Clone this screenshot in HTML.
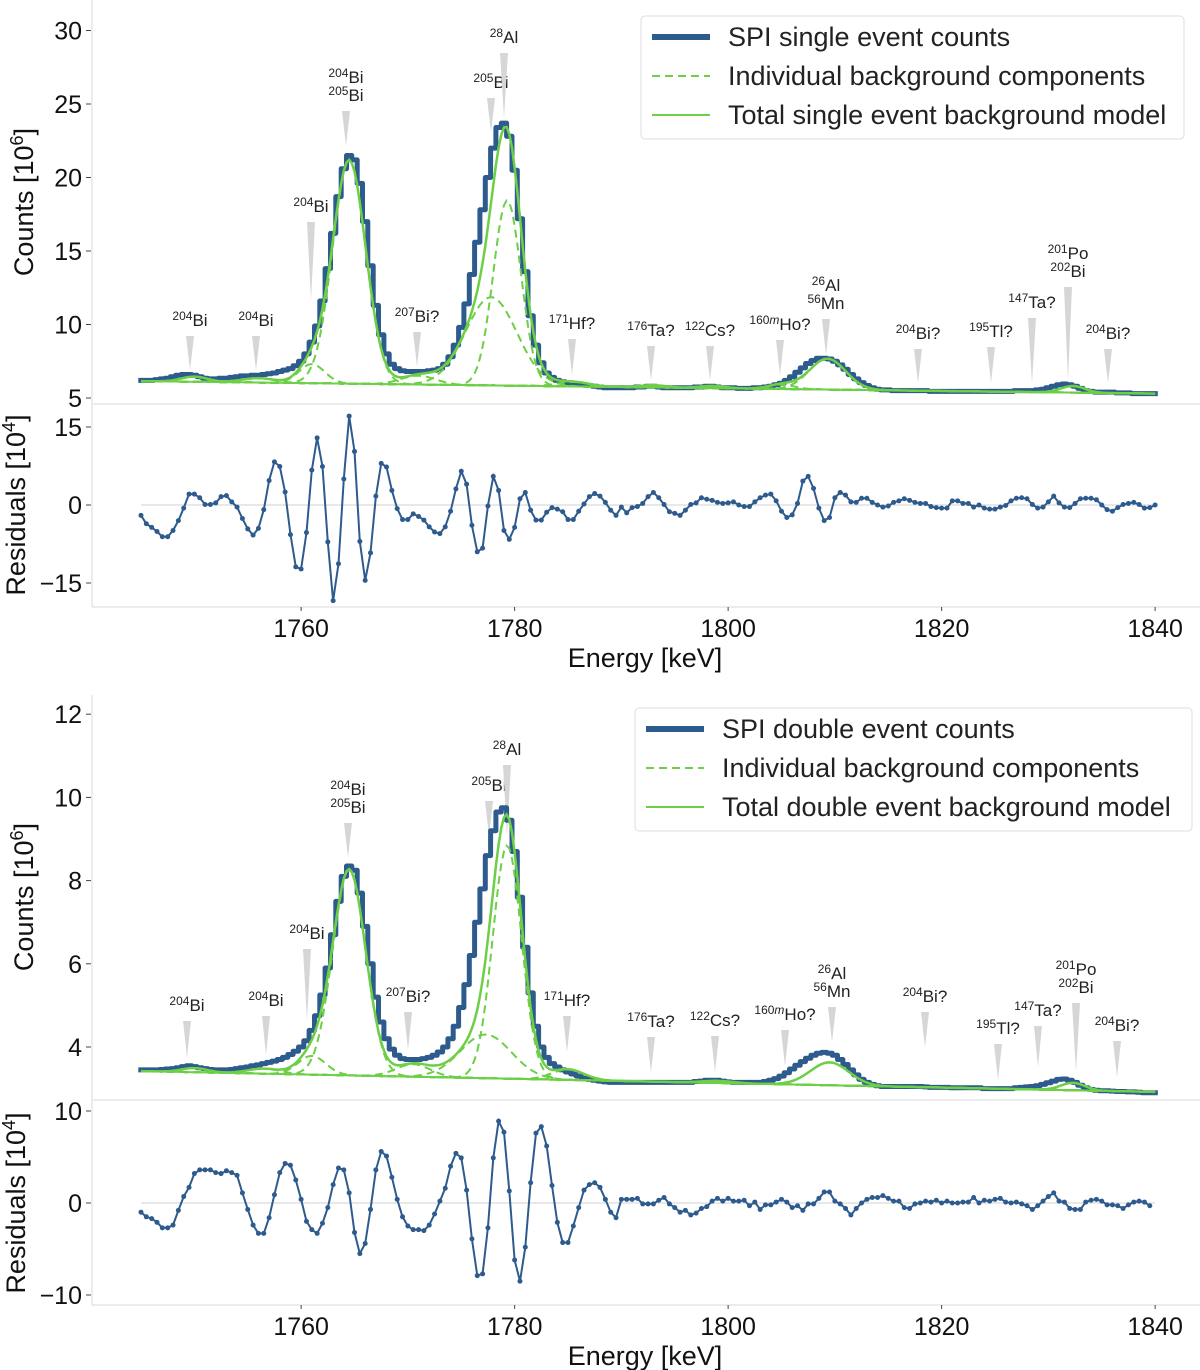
<!DOCTYPE html>
<html><head><meta charset="utf-8"><style>
body{margin:0;background:#fff}
svg{display:block;font-family:"Liberation Sans",sans-serif}
</style></head><body>
<svg id="chart" width="1200" height="1370" viewBox="0 0 1200 1370"></svg>
<script>
// ---------- DATA ----------
const energyStart = 1745;   // keV, first bin centre
const binStep = 0.5;        // keV width of count bins
const residStep = 0.5;      // keV spacing of residual points
const xTicks = [1760, 1780, 1800, 1820, 1840];
const topCountTicks = [5, 10, 15, 20, 25, 30];
const topResidTicks = [-15, 0, 15];
const botCountTicks = [4, 6, 8, 10, 12];
const botResidTicks = [-10, 0, 10];

const topCounts = [6.2,6.2,6.2,6.25,6.3,6.35,
6.45,6.55,6.6,6.6,6.55,6.45,6.35,6.3,6.3,6.35,
6.35,6.4,6.45,6.5,6.5,6.55,6.55,6.6,6.65,6.7,
6.8,6.9,7.0,7.2,7.5,8.0,8.8,9.9,11.6,13.8,
16.2,18.7,20.6,21.5,21.2,19.6,17.0,14.0,11.3,9.3,
8.0,7.3,7.0,6.85,6.8,6.8,6.8,6.8,6.85,6.9,
7.0,7.3,7.8,8.6,9.8,11.4,13.4,15.6,17.8,20.0,
22.0,23.4,23.7,22.8,20.5,17.2,13.6,10.6,8.6,7.4,
6.7,6.4,6.2,6.1,6.05,6.0,5.95,5.9,5.85,5.8,
5.75,5.7,5.7,5.7,5.7,5.7,5.7,5.75,5.75,5.8,
5.8,5.75,5.7,5.7,5.7,5.7,5.7,5.7,5.75,5.75,
5.8,5.8,5.75,5.7,5.7,5.7,5.65,5.65,5.65,5.7,
5.7,5.75,5.8,5.9,6.0,6.2,6.45,6.75,7.05,7.35,
7.55,7.7,7.7,7.65,7.5,7.25,6.95,6.6,6.3,6.05,
5.85,5.7,5.6,5.55,5.55,5.5,5.5,5.5,5.5,5.5,
5.5,5.5,5.45,5.45,5.45,5.45,5.45,5.45,5.45,5.45,
5.45,5.45,5.45,5.45,5.45,5.45,5.45,5.45,5.5,5.5,
5.5,5.5,5.55,5.6,5.7,5.8,5.9,5.95,5.9,5.8,
5.65,5.5,5.45,5.4,5.4,5.4,5.4,5.35,5.35,5.35,
5.3,5.3,5.3,5.3,5.3];
const topResid = [-2.0,-3.6,-4.3,-5.1,-6.1,-6.1,-4.9,-3.0,-0.6,2.1,2.1,1.4,0.1,0.1,0.4,1.6,1.8,0.6,-0.4,-2.6,-4.6,-5.8,-4.5,-0.9,4.7,8.3,7.4,2.5,-5.7,-11.9,-12.3,-5.3,6.7,12.9,7.4,-7.1,-18.4,-11.3,5.0,17.1,10.3,-7.0,-14.5,-9.2,1.7,8.0,7.3,2.8,-0.7,-2.8,-2.8,-1.7,-2.2,-2.9,-4.2,-5.2,-5.5,-4.2,-1.2,3.1,6.5,4.0,-3.9,-9.0,-8.3,-0.2,5.5,2.8,-4.9,-6.6,-4.3,1.2,2.4,-1.0,-2.9,-2.9,-1.4,-0.5,-0.8,-1.3,-2.8,-2.8,-1.2,0.2,1.6,2.2,1.7,0.5,-1.0,-2.0,-0.4,-1.5,
-0.5,-0.3,0.3,1.6,2.4,1.4,0.1,-1.3,-1.6,-2.0,-1.0,0.1,0.4,1.4,1.1,0.9,0.5,0.3,0.4,0.6,0.0,-0.3,-0.3,0.6,1.4,1.9,2.1,0.8,-1.2,-2.4,-1.9,0.3,4.6,5.5,3.2,-0.6,-3.0,-2.4,1.4,2.4,1.9,0.6,0.5,1.3,1.3,0.5,0.0,-0.4,-0.2,0.5,0.8,1.2,0.9,0.5,0.3,0.3,-0.3,-0.5,-0.6,-0.6,0.8,0.8,0.3,0.3,-0.4,0.0,-0.6,-0.8,-0.8,-0.4,-0.1,0.8,1.3,1.4,1.2,0.1,-0.6,-0.4,0.6,1.7,0.4,-0.4,-0.5,0.3,1.2,1.3,1.3,1.0,0.0,-0.9,-1.2,-0.5,0.1,0.3,0.5,0.1,-0.6,-0.5,0.0];
const topBaseline = [6.15, 5.3];   // linear background at 1745 and 1840 keV
const topCompCentres = [1750, 1756, 1761, 1764.5, 1771, 1777.8, 1779.3, 1785.5, 1793, 1798.5, 1805, 1809.3, 1832.3];
const topCompAmps    = [0.35, 0.3, 1.3, 15.2, 0.6, 6.0, 12.6, 0.3, 0.15, 0.15, 0.3, 2.1, 0.45];
const topCompSigmas  = [1.2, 1.5, 1.2, 1.55, 1.6, 2.4, 1.3, 1.5, 1.2, 1.2, 1.2, 1.7, 1.1];

const botCounts = [3.45,3.45,3.45,3.45,3.46,3.47,
3.48,3.5,3.53,3.55,3.53,3.5,3.48,3.46,3.45,3.45,
3.45,3.46,3.48,3.5,3.52,3.55,3.57,3.6,3.63,3.66,
3.7,3.75,3.82,3.9,4.0,4.15,4.4,4.75,5.25,5.9,
6.7,7.5,8.1,8.35,8.25,7.7,6.9,6.0,5.2,4.6,
4.2,3.95,3.8,3.72,3.7,3.7,3.7,3.72,3.75,3.8,
3.88,4.0,4.2,4.5,4.95,5.5,6.2,7.0,7.8,8.6,
9.2,9.65,9.75,9.45,8.7,7.6,6.4,5.3,4.5,4.0,
3.75,3.6,3.52,3.45,3.4,3.35,3.3,3.25,3.22,3.2,
3.18,3.16,3.15,3.15,3.15,3.15,3.15,3.15,3.15,3.15,
3.15,3.15,3.15,3.15,3.15,3.15,3.15,3.15,3.17,3.18,
3.2,3.2,3.2,3.18,3.16,3.15,3.15,3.15,3.15,3.15,
3.15,3.17,3.2,3.24,3.3,3.38,3.47,3.56,3.65,3.73,
3.8,3.85,3.87,3.85,3.8,3.7,3.58,3.45,3.33,3.22,
3.15,3.1,3.07,3.05,3.05,3.05,3.05,3.05,3.05,3.05,
3.05,3.04,3.03,3.03,3.03,3.03,3.02,3.02,3.02,3.02,
3.02,3.02,3.0,3.0,3.0,3.0,3.0,3.0,3.02,3.03,
3.04,3.05,3.07,3.1,3.14,3.18,3.22,3.23,3.2,3.15,
3.08,3.02,2.98,2.96,2.95,2.95,2.94,2.93,2.93,2.92,
2.92,2.91,2.9,2.9,2.9];
const botResid = [-1.0,-1.5,-1.7,-2.1,-2.7,-2.7,-2.4,-0.8,0.7,1.7,3.2,3.6,3.6,3.6,3.3,3.2,3.5,3.3,3.0,1.1,-0.7,-2.4,-3.3,-3.3,-1.6,0.9,3.3,4.3,4.1,2.5,0.4,-2.0,-2.9,-3.3,-2.2,-0.5,2.0,3.8,3.6,1.1,-3.2,-5.5,-4.4,-0.7,3.6,5.6,5.1,2.8,0.4,-1.5,-2.5,-2.9,-2.9,-3.0,-2.4,-1.2,0.2,1.6,4.0,5.4,4.9,1.4,-3.9,-7.9,-7.7,-2.7,4.9,8.9,7.7,1.3,-6.2,-8.5,-4.8,2.2,7.6,8.3,6.2,1.9,-2.1,-4.3,-4.3,-2.5,-0.5,1.4,2.0,2.2,1.7,0.4,-1.0,-1.6,0.4,0.4,
0.4,0.5,-0.1,-0.1,-0.1,0.3,0.6,-0.1,-0.5,-1.0,-0.8,-1.3,-1.1,-0.6,-0.4,0.2,0.5,0.2,0.5,0.2,0.2,0.3,-0.3,0.1,-0.7,-0.2,-0.2,0.1,0.4,0.1,-0.5,-0.3,-0.8,-0.1,-0.1,0.5,1.2,1.2,0.2,-0.1,-0.6,-1.3,-0.6,0.0,0.4,0.6,0.6,0.8,0.5,0.2,0.2,-0.5,-0.6,-0.1,0.0,0.2,0.1,0.3,0.0,0.2,0.0,0.0,0.1,0.1,0.6,0.0,0.3,0.2,0.4,0.5,0.1,0.0,0.1,-0.1,-0.3,-0.7,-0.3,0.2,0.7,1.1,0.2,0.1,-0.6,-0.7,-0.7,0.1,0.3,0.4,0.2,-0.2,-0.2,-0.3,-0.6,-0.2,0.1,0.2,0.1,-0.3];
const botBaseline = [3.42, 2.92];
const botCompCentres = [1750, 1756.5, 1761, 1764.5, 1770.5, 1777.3, 1779.3, 1785, 1799, 1809.5, 1832.3];
const botCompAmps    = [0.1, 0.12, 0.45, 4.95, 0.3, 1.05, 5.6, 0.25, 0.05, 0.55, 0.18];
const botCompSigmas  = [1.2, 1.5, 1.3, 1.55, 1.6, 2.4, 1.35, 1.5, 1.5, 1.8, 1.1];

const topLabels = [["204Bi"],["204Bi"],["204Bi"],["204Bi","205Bi"],["207Bi?"],["205Bi"],["28Al"],["171Hf?"],["176Ta?"],["122Cs?"],["160mHo?"],["26Al","56Mn"],["204Bi?"],["195Tl?"],["147Ta?"],["201Po","202Bi"],["204Bi?"]];
const topLabelX = [190,256,311,346,417,491,504,572,651,710,780,826,918,991,1032,1068,1108];
const topLabelY = [320,320,206,77,316,82,37,323,330,330,324,285,333,331,302,253,333];
const topWedgeEnd = [370,370,300,146,366,132,118,375,380,380,375,355,383,383,383,380,383];
const botLabels = topLabels;
const botLabelX = [187,266,307,348,408,489,507,567,651,715,785,832,925,998,1038,1076,1117];
const botLabelY = [1005,1000,933,789,996,785,749,1000,1021,1020,1014,973,996,1028,1010,969,1025];
const botWedgeEnd = [1057,1055,1020,857,1050,836,836,1052,1072,1072,1066,1042,1047,1080,1067,1072,1077];

// ---------- DRAW ----------
const NS = 'http://www.w3.org/2000/svg';
const svg = document.getElementById('chart');
const BLUE = '#2e5b8d', GREEN = '#6ccf46', GRID = '#e6e6e6';
function mk(tag, attrs, parent) {
  const e = document.createElementNS(NS, tag);
  for (const k in attrs) e.setAttribute(k, attrs[k]);
  (parent || svg).appendChild(e);
  return e;
}
const X = e => 141 + (e - 1745) * 10.675;
function gauss(e, c, a, s) { return a * Math.exp(-0.5 * ((e - c) / s) ** 2); }

function drawPanel(p) {
  const g = mk('g', {});
  
  
  const Y = v => p.cy0 - (v - p.cv0) * p.cscale;
  const R = v => p.ry0 - v * p.rscale;
  const sp = mk('line', {x1: 92, x2: 92, y1: p.top, y2: p.bottom, stroke: GRID, 'stroke-width': 1.5}, g);
   
  const sep = mk('line', {x1: 92, x2: 1200, y1: p.sep, y2: p.sep, stroke: GRID, 'stroke-width': 1.5}, g);
   
  const bt = mk('line', {x1: 92, x2: 1200, y1: p.bottom, y2: p.bottom, stroke: GRID, 'stroke-width': 1.5}, g);
   
  const z = mk('line', {x1: X(1745), x2: X(1840), y1: R(0), y2: R(0), stroke: '#e0e0e0', 'stroke-width': 1.5}, g);
   
  p.cticks.forEach(t => {
    mk('line', {x1: 86, x2: 91, y1: Y(t), y2: Y(t), stroke: '#444', 'stroke-width': 1}, g);
    const tx = mk('text', {x: 82, y: Y(t) + 9, 'text-anchor': 'end', 'font-size': 25, fill: '#111'}, g);
    tx.textContent = t;
     
  });
  p.rticks.forEach(t => {
    mk('line', {x1: 86, x2: 91, y1: R(t), y2: R(t), stroke: '#444', 'stroke-width': 1}, g);
    const tx = mk('text', {x: 82, y: R(t) + 9, 'text-anchor': 'end', 'font-size': 25, fill: '#111'}, g);
    tx.textContent = t < 0 ? '\u2212' + (-t) : t;
     
  });
  xTicks.forEach(t => {
    mk('line', {x1: X(t), x2: X(t), y1: p.bottom, y2: p.bottom + 4, stroke: '#444', 'stroke-width': 1}, g);
    const tx = mk('text', {x: X(t), y: p.bottom + 30, 'text-anchor': 'middle', 'font-size': 25, fill: '#111'}, g);
    tx.textContent = t;
     
  });
  const cl = mk('text', {x: 0, y: 0, 'text-anchor': 'middle', 'font-size': 27, fill: '#111', transform: `translate(${p.cLabX},${p.cLabY}) rotate(-90)`}, g);
  cl.innerHTML = 'Counts [10<tspan dy="-10" font-size="18">6</tspan><tspan dy="10">]</tspan>';
   
  const rl = mk('text', {x: 0, y: 0, 'text-anchor': 'middle', 'font-size': 27, fill: '#111', transform: `translate(25,${R(0)}) rotate(-90)`}, g);
  rl.innerHTML = 'Residuals [10<tspan dy="-10" font-size="18">4</tspan><tspan dy="10">]</tspan>';
   
  const xl = mk('text', {x: 645, y: p.bottom + 60, 'text-anchor': 'middle', 'font-size': 27, fill: '#111'}, g);
  xl.textContent = 'Energy [keV]';
   

  // wedges + labels
  p.labels.forEach((lab, i) => {
    const x = p.lx[i], ly = p.ly[i];
    const wStart = ly + 16 + (lab.length - 1) * 18;
    const w = mk('polygon', {points: `${x-4},${wStart} ${x+4},${wStart} ${x},${p.we[i]}`, fill: '#d6d6d6'}, g);
     
    lab.forEach((s, j) => {
      const m = s.match(/^(\d+m?)(.*)$/);
      const t = mk('text', {x: x, y: ly + 6 + j * 18, 'text-anchor': 'middle', 'font-size': 17, fill: '#222'}, g);
      const iso = m[1].replace('m', '<tspan font-style="italic">m</tspan>');
      t.innerHTML = `<tspan dy="-6" font-size="12">${iso}</tspan><tspan dy="6">${m[2]}</tspan>`;
       
    });
  });

  // counts step line
  let d = '';
  const hb = binStep / 2;
  p.counts.forEach((v, i) => {
    const e = energyStart + i * binStep;
    d += (i === 0 ? 'M' : 'L') + X(e - hb).toFixed(1) + ',' + Y(v).toFixed(1) + 'L' + X(e + hb).toFixed(1) + ',' + Y(v).toFixed(1);
  });
  const cp = mk('path', {d: d, fill: 'none', stroke: BLUE, 'stroke-width': 5, 'stroke-linejoin': 'round'}, g);
   

  // components + total
  const base = e => p.base[0] + (p.base[1] - p.base[0]) * (e - 1745) / 95;
  const grid = [];
  for (let e = 1745; e <= 1840.001; e += 0.25) grid.push(e);
  p.cc.forEach((c, k) => {
    let dd = '';
    grid.forEach((e, i) => { dd += (i ? 'L' : 'M') + X(e).toFixed(1) + ',' + Y(base(e) + gauss(e, c, p.ca[k], p.cs[k])).toFixed(1); });
    const cpath = mk('path', {d: dd, fill: 'none', stroke: GREEN, 'stroke-width': 2, 'stroke-dasharray': '8,5'}, g);
     
  });
  let dl = '';
  grid.forEach((e, i) => { dl += (i ? 'L' : 'M') + X(e).toFixed(1) + ',' + Y(base(e)).toFixed(1); });
  const bl = mk('path', {d: dl, fill: 'none', stroke: GREEN, 'stroke-width': 2}, g);
   
  let dt = '';
  grid.forEach((e, i) => {
    let v = base(e);
    p.cc.forEach((c, k) => { v += gauss(e, c, p.ca[k], p.cs[k]); });
    dt += (i ? 'L' : 'M') + X(e).toFixed(1) + ',' + Y(v).toFixed(1);
  });
  const tp = mk('path', {d: dt, fill: 'none', stroke: GREEN, 'stroke-width': 2.5}, g);
   

  // residuals
  let dr = '';
  p.resid.forEach((v, i) => { dr += (i ? 'L' : 'M') + X(1745 + i * residStep).toFixed(1) + ',' + R(v).toFixed(1); });
  const rp = mk('path', {d: dr, fill: 'none', stroke: BLUE, 'stroke-width': 2}, g);
   
  p.resid.forEach((v, i) => {
    const c = mk('circle', {cx: X(1745 + i * residStep), cy: R(v), r: 2.5, fill: BLUE}, g);
     
  });

  // legend
  const lg = mk('g', {}, g);
   
  mk('rect', {x: p.lgX, y: p.lgY, width: p.lgW, height: 123, rx: 4, fill: '#fff', stroke: '#dddddd', 'stroke-width': 1}, lg);
  const rows = [[p.lgText[0], BLUE, 6, ''], ['Individual background components', GREEN, 2, '8,5'], [p.lgText[1], GREEN, 2, '']];
  rows.forEach((r, i) => {
    const yy = p.lgY + 21 + i * 39;
    mk('line', {x1: p.lgX + 11, x2: p.lgX + 69, y1: yy, y2: yy, stroke: r[1], 'stroke-width': r[2], 'stroke-dasharray': r[3]}, lg);
    const t = mk('text', {x: p.lgX + 87, y: yy + 9, 'font-size': 27, fill: '#222'}, lg);
    t.textContent = r[0];
     
  });
}

drawPanel({name: 'single-event-panel', top: 0, sep: 404, bottom: 607,
  cy0: 398, cv0: 5, cscale: 14.7, ry0: 505, rscale: 5.2,
  cticks: topCountTicks, rticks: topResidTicks, cLabX: 33, cLabY: 202,
  counts: topCounts, resid: topResid, base: topBaseline,
  cc: topCompCentres, ca: topCompAmps, cs: topCompSigmas,
  labels: topLabels, lx: topLabelX, ly: topLabelY, we: topWedgeEnd,
  lgX: 641, lgY: 16, lgW: 543, lgText: ['SPI single event counts', 'Total single event background model']});

drawPanel({name: 'double-event-panel', top: 695, sep: 1100, bottom: 1305,
  cy0: 1047, cv0: 4, cscale: 41.6, ry0: 1203, rscale: 9.2,
  cticks: botCountTicks, rticks: botResidTicks, cLabX: 33, cLabY: 897,
  counts: botCounts, resid: botResid, base: botBaseline,
  cc: botCompCentres, ca: botCompAmps, cs: botCompSigmas,
  labels: botLabels, lx: botLabelX, ly: botLabelY, we: botWedgeEnd,
  lgX: 635, lgY: 708, lgW: 557, lgText: ['SPI double event counts', 'Total double event background model']});
</script>
</body></html>
